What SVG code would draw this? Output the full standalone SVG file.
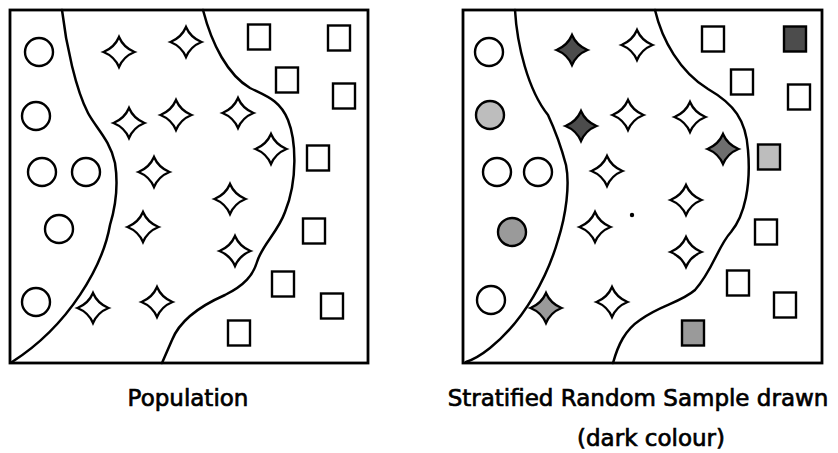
<svg xmlns="http://www.w3.org/2000/svg" xmlns:xlink="http://www.w3.org/1999/xlink" width="838" height="453" viewBox="0 0 838 453">
<style>
.box{fill:none;stroke:#000;stroke-width:2.8}
.line{fill:none;stroke:#000;stroke-width:2.5;stroke-linecap:round}
.sh{fill:#fff;stroke:#000;stroke-width:2.4}
.d1{fill:#4c4c4c}
.d2{fill:#6e6e6e}
.d3{fill:#9a9a9a}
.d4{fill:#bdbdbd}
.lbl{font-family:"DejaVu Sans",sans-serif;font-size:23px;fill:#000;stroke:#000;stroke-width:0.7;text-anchor:middle}
</style>
<defs>
<path id="star" d="M0,-15 Q4.5,-4.5 15.5,0 Q4.5,4.5 0,15 Q-4.5,4.5 -15.5,0 Q-4.5,-4.5 0,-15 Z" stroke-linejoin="miter"/>
<circle id="circ" r="14"/>
<rect id="sq" x="-11" y="-12.5" width="22" height="25"/>
</defs>
<rect width="838" height="453" fill="#fff"/>

<g id="population">
<rect class="box" x="10" y="10" width="358" height="353"/>
<g id="pop-boundaries">
<path class="line" d="M62,10 C66,45 76,90 88,113 C96,128 110,140 115,163 C118,182 116,205 110,225 C103,265 70,325 12,362"/>
<path class="line" d="M203,10 C212,45 228,75 250,88 C266,96 280,100 288,120 C296,140 298,180 285,212 C278,232 262,245 257,262 C253,275 245,285 225,295 C200,306 180,320 172,340 L162,363"/>
</g>
<g id="pop-circles" class="sh">
<use href="#circ" x="39" y="52"/>
<use href="#circ" x="36" y="116"/>
<use href="#circ" x="42" y="172"/>
<use href="#circ" x="86" y="172"/>
<use href="#circ" x="59" y="229"/>
<use href="#circ" x="36" y="302"/>
</g>
<g id="pop-stars" class="sh">
<use href="#star" x="119" y="52"/>
<use href="#star" x="186" y="42"/>
<use href="#star" x="129" y="123"/>
<use href="#star" x="176" y="115"/>
<use href="#star" x="154" y="172"/>
<use href="#star" x="143" y="227"/>
<use href="#star" x="93" y="308"/>
<use href="#star" x="157" y="302"/>
<use href="#star" x="238" y="113"/>
<use href="#star" x="271" y="149"/>
<use href="#star" x="230" y="199"/>
<use href="#star" x="235" y="251"/>
</g>
<g id="pop-squares" class="sh">
<use href="#sq" x="259" y="37"/>
<use href="#sq" x="339" y="38"/>
<use href="#sq" x="287" y="80"/>
<use href="#sq" x="344" y="96"/>
<use href="#sq" x="318" y="158"/>
<use href="#sq" x="314" y="231"/>
<use href="#sq" x="283" y="284"/>
<use href="#sq" x="332" y="306"/>
<use href="#sq" x="239" y="333"/>
</g>
<text class="lbl" x="188" y="406">Population</text>
</g>

<g id="sample">
<rect class="box" x="463" y="10" width="359" height="353"/>
<g id="sample-boundaries">
<path class="line" d="M515,10 C517,45 528,90 548,115 C555,130 562,150 566,165 C570,185 566,215 558,240 C548,275 525,320 490,348 C480,356 472,360 466,362"/>
<path class="line" d="M655,10 C662,40 680,72 708,89 C734,104 746,120 748,150 C751,185 745,215 731,232 C718,246 713,270 695,290 C680,303 660,305 640,320 C625,330 618,345 613,363"/>
</g>
<g id="sample-circles" class="sh">
<use href="#circ" x="489" y="52"/>
<use href="#circ" x="490" y="115" class="d4"/>
<use href="#circ" x="497" y="172"/>
<use href="#circ" x="538" y="172"/>
<use href="#circ" x="512" y="232" class="d3"/>
<use href="#circ" x="491" y="300"/>
</g>
<g id="sample-stars" class="sh">
<use href="#star" x="572" y="50" class="d1"/>
<use href="#star" x="637" y="45"/>
<use href="#star" x="628" y="115"/>
<use href="#star" x="581" y="126" class="d1"/>
<use href="#star" x="607" y="171"/>
<use href="#star" x="595" y="227"/>
<use href="#star" x="546" y="308" class="d3"/>
<use href="#star" x="612" y="302"/>
<use href="#star" x="690" y="117"/>
<use href="#star" x="723" y="149" class="d2"/>
<use href="#star" x="686" y="200"/>
<use href="#star" x="686" y="252"/>
</g>
<g id="sample-squares" class="sh">
<use href="#sq" x="713" y="39"/>
<use href="#sq" x="795" y="39" class="d1"/>
<use href="#sq" x="742" y="82"/>
<use href="#sq" x="799" y="97"/>
<use href="#sq" x="769" y="157" class="d4"/>
<use href="#sq" x="766" y="232"/>
<use href="#sq" x="738" y="283"/>
<use href="#sq" x="785" y="305"/>
<use href="#sq" x="693" y="333" class="d3"/>
</g>
<circle cx="632" cy="215" r="2.2" fill="#000"/>
<text class="lbl" x="638" y="406">Stratified Random Sample drawn</text>
<text class="lbl" x="651" y="446">(dark colour)</text>
</g>
</svg>
